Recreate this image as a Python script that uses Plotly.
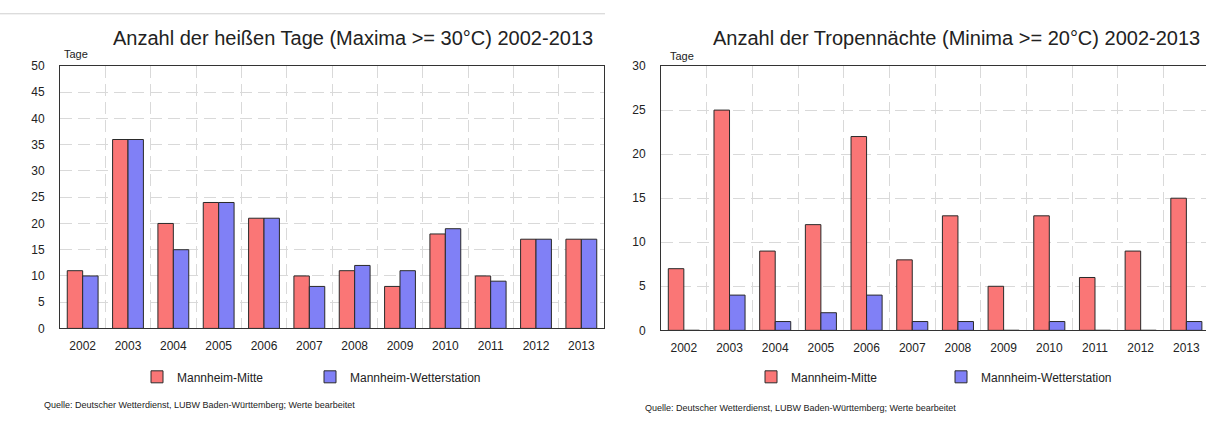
import plotly.graph_objects as go

# Years shown on both charts
years = [2002, 2003, 2004, 2005, 2006, 2007, 2008, 2009, 2010, 2011, 2012, 2013]
year_labels = [str(y) for y in years]

# Hot days (daily maximum >= 30 °C)
hot_mitte = [11, 36, 20, 24, 21, 10, 11, 8, 18, 10, 17, 17]
hot_wetter = [10, 36, 15, 24, 21, 8, 12, 11, 19, 9, 17, 17]

# Tropical nights (daily minimum >= 20 °C)
trop_mitte = [7, 25, 9, 12, 22, 8, 13, 5, 13, 6, 9, 15]
trop_wetter = [0, 4, 1, 2, 4, 1, 1, 0, 1, 0, 0, 1]

series_names = ["Mannheim-Mitte", "Mannheim-Wetterstation"]
left_title = "Anzahl der heißen Tage (Maxima >= 30°C) 2002-2013"
right_title = "Anzahl der Tropennächte (Minima >= 20°C) 2002-2013"
y_label = "Tage"
source = "Quelle: Deutscher Wetterdienst, LUBW Baden-Württemberg; Werte bearbeitet"

W, H = 1206, 439
RED = "#FA7676"
BLUE = "#8080F6"
EDGE = "#2a2a2a"
GRID = "#d9d9d9"
FONT = "Arial, Liberation Sans, sans-serif"


def px_x(v):
    return v / W


def px_y(v):
    return 1 - v / H


fig = go.Figure()

# Each series gets its own one-entry legend so the entries can be placed freely
traces = [
    (hot_mitte, series_names[0], RED, "x", "y", "legend"),
    (hot_wetter, series_names[1], BLUE, "x", "y", "legend2"),
    (trop_mitte, series_names[0], RED, "x2", "y2", "legend3"),
    (trop_wetter, series_names[1], BLUE, "x2", "y2", "legend4"),
]
for vals, name, color, xa, ya, lg in traces:
    fig.add_trace(go.Bar(x=years, y=vals, name=name, xaxis=xa, yaxis=ya,
                         marker=dict(color=color, line=dict(color=EDGE, width=1)),
                         legend=lg))

boundaries = [y + 0.5 for y in years[:-1]]


def xaxis(domain, rng, anchor):
    return dict(domain=domain, range=rng, anchor=anchor,
                tickmode="array", tickvals=years, ticktext=year_labels,
                showgrid=False, zeroline=False,
                showline=True, linecolor="#333", linewidth=1, mirror=True,
                ticks="", ticklabelstandoff=6,
                tickfont=dict(family=FONT, size=12, color="#222"),
                minor=dict(tickmode="array", tickvals=boundaries, showgrid=True,
                           gridcolor=GRID, griddash="12px,6px", gridwidth=1, ticks=""))


def yaxis(domain, top, anchor, mirror):
    return dict(domain=domain, range=[0, top], anchor=anchor,
                tickmode="linear", tick0=0, dtick=5,
                showgrid=True, gridcolor=GRID, griddash="12px,6px", gridwidth=1,
                zeroline=False, showline=True, linecolor="#333", linewidth=1, mirror=mirror,
                ticks="", ticklabelstandoff=12,
                tickfont=dict(family=FONT, size=12, color="#222"))


def legend(x_px):
    return dict(orientation="h", x=px_x(x_px), y=px_y(382), xanchor="left", yanchor="middle",
                font=dict(family=FONT, size=12, color="#222"), bgcolor="rgba(0,0,0,0)")


fig.update_layout(
    width=W, height=H,
    margin=dict(l=0, r=0, t=0, b=0),
    paper_bgcolor="white", plot_bgcolor="white",
    barmode="group", bargap=0.32, bargroupgap=0,
    font=dict(family=FONT, color="#222"),
    xaxis=xaxis([px_x(60), px_x(604)], [2001.5, 2013.5], "y"),
    yaxis=yaxis([px_y(332), px_y(61)], 50, "x", True),
    xaxis2=xaxis([px_x(661), 1.0], [2001.5, 2013.43], "y2"),
    yaxis2=yaxis([px_y(334), px_y(61)], 30, "x2", False),
    legend=legend(137),
    legend2=legend(310),
    legend3=legend(751),
    legend4=legend(941),
    showlegend=True,
)

annotations = [
    dict(text=left_title, x=px_x(353), y=px_y(32), font=dict(size=20)),
    dict(text=right_title, x=px_x(956), y=px_y(32), font=dict(size=20)),
    dict(text=y_label, x=px_x(62), y=px_y(49), xanchor="left", font=dict(size=11)),
    dict(text=y_label, x=px_x(668), y=px_y(51), xanchor="left", font=dict(size=11)),
    dict(text=source, x=px_x(42), y=px_y(411), xanchor="left", font=dict(size=9)),
    dict(text=source, x=px_x(643), y=px_y(414), xanchor="left", font=dict(size=9)),
]
for a in annotations:
    a.setdefault("xanchor", "center")
    fig.add_annotation(xref="paper", yref="paper", showarrow=False, yanchor="middle",
                       **{k: v for k, v in a.items() if k != "font"},
                       font=dict(family=FONT, color="#222", **a["font"]))

# Thin separator above the left chart
fig.add_shape(type="line", xref="paper", yref="paper",
              x0=0, x1=px_x(605), y0=px_y(7), y1=px_y(7),
              line=dict(color="#cfcfcf", width=1))

fig.write_html("out.html")
